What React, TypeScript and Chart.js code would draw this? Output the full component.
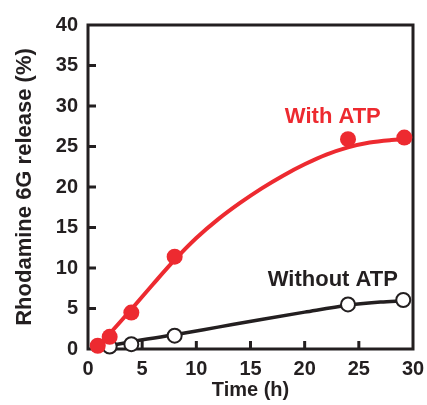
import React, { useEffect, useRef } from "react";
import { Chart, registerables } from "chart.js";

Chart.register(...registerables);

// Measured points
const withAtpTime = [0.9, 2, 4, 8, 24, 29.2];
const withAtpRelease = [0.4, 1.5, 4.5, 11.4, 25.9, 26.1];
const withoutAtpTime = [2, 4, 8, 24, 29.1];
const withoutAtpRelease = [0.3, 0.6, 1.65, 5.5, 6.05];

// Fitted curves
const withFitTime = [0.9, 2, 4, 6, 8, 10, 12, 14, 16, 18, 20, 22, 24, 26, 28, 29.2];
const withFitRelease = [0.4, 1.9, 4.9, 8.0, 11.0, 13.7, 16.0, 18.0, 19.8, 21.4, 22.8, 24.0, 24.9, 25.5, 25.8, 25.9];
const withoutFitTime = [0.9, 2, 4, 8, 12, 16, 20, 24, 27, 29.1];
const withoutFitRelease = [0.1, 0.4, 0.9, 1.75, 2.7, 3.65, 4.55, 5.4, 5.8, 5.95];

const xTicks = [0, 5, 10, 15, 20, 25, 30];
const yTicks = [0, 5, 10, 15, 20, 25, 30, 35, 40];

const RED = "#ED2A30";
const INK = "#231F20";
const FONT = "'Liberation Sans', Arial, sans-serif";

const toXY = (xs: number[], ys: number[]) => xs.map((x, i) => ({ x, y: ys[i] }));

const framePlugin = {
  id: "frame",
  beforeDatasetsDraw(chart: any) {
    const { ctx, chartArea: a, scales } = chart;
    ctx.save();
    ctx.strokeStyle = INK;
    ctx.lineWidth = 3;
    ctx.strokeRect(a.left, a.top, a.right - a.left, a.bottom - a.top);
    ctx.beginPath();
    yTicks.forEach((v) => {
      if (v <= 0 || v >= 40) return;
      const y = scales.y.getPixelForValue(v);
      ctx.moveTo(a.left, y);
      ctx.lineTo(a.left + 8, y);
    });
    xTicks.forEach((v) => {
      if (v <= 0 || v >= 30) return;
      const x = scales.x.getPixelForValue(v);
      ctx.moveTo(x, a.bottom);
      ctx.lineTo(x, a.bottom - 8);
    });
    ctx.stroke();
    ctx.restore();
  },
  afterDraw(chart: any) {
    const { ctx, scales } = chart;
    ctx.save();
    ctx.font = `bold 22px ${FONT}`;
    ctx.textAlign = "center";
    ctx.textBaseline = "middle";
    ctx.fillStyle = RED;
    ctx.fillText("With ATP", scales.x.getPixelForValue(22.6), scales.y.getPixelForValue(28.6));
    ctx.fillStyle = INK;
    ctx.fillText("Without ATP", scales.x.getPixelForValue(22.6), scales.y.getPixelForValue(8.5));
    ctx.restore();
  },
};

export default function App() {
  const ref = useRef<HTMLCanvasElement | null>(null);
  useEffect(() => {
    if (!ref.current) return;
    const chart = new Chart(ref.current, {
      type: "scatter",
      data: {
        datasets: [
          {
            data: toXY(withAtpTime, withAtpRelease),
            pointRadius: 8,
            pointBackgroundColor: RED,
            pointBorderColor: RED,
            pointBorderWidth: 0,
            showLine: false,
            clip: false,
          } as any,
          {
            data: toXY(withoutAtpTime, withoutAtpRelease),
            pointRadius: 7,
            pointBackgroundColor: "#ffffff",
            pointBorderColor: INK,
            pointBorderWidth: 2,
            showLine: false,
            clip: false,
          } as any,
          {
            data: toXY(withFitTime, withFitRelease),
            showLine: true,
            pointRadius: 0,
            borderColor: RED,
            borderWidth: 4,
            cubicInterpolationMode: "monotone",
            clip: false,
          } as any,
          {
            data: toXY(withoutFitTime, withoutFitRelease),
            showLine: true,
            pointRadius: 0,
            borderColor: INK,
            borderWidth: 3.5,
            cubicInterpolationMode: "monotone",
            clip: false,
          } as any,
        ],
      },
      options: {
        animation: false,
        responsive: false,
        events: [],
        layout: { padding: { left: 0, right: 14, top: 25, bottom: 0 } },
        plugins: { legend: { display: false }, tooltip: { enabled: false } },
        scales: {
          x: {
            type: "linear",
            min: 0,
            max: 30,
            afterFit: (s: any) => {
              s.height = 56;
              s.paddingLeft = 0;
              s.paddingRight = 0;
            },
            afterBuildTicks: (s: any) => {
              s.ticks = xTicks.map((v) => ({ value: v }));
            },
            grid: { display: false, drawTicks: false },
            border: { display: false },
            ticks: {
              padding: 8,
              color: INK,
              font: { family: FONT, size: 20, weight: "bold" },
              maxRotation: 0,
            },
            title: {
              display: true,
              text: "Time (h)",
              color: INK,
              font: { family: FONT, size: 20, weight: "bold" },
              padding: { top: 0, bottom: 3 },
            },
          },
          y: {
            type: "linear",
            min: 0,
            max: 40,
            afterFit: (s: any) => {
              s.width = 88;
              s.paddingTop = 0;
              s.paddingBottom = 0;
            },
            afterBuildTicks: (s: any) => {
              s.ticks = yTicks.map((v) => ({ value: v }));
            },
            grid: { display: false, drawTicks: false },
            border: { display: false },
            ticks: {
              padding: 10,
              color: INK,
              font: { family: FONT, size: 20, weight: "bold" },
            },
            title: {
              display: true,
              text: "Rhodamine 6G release (%)",
              color: INK,
              font: { family: FONT, size: 22, weight: "bold" },
              padding: { top: 12, bottom: 0 },
            },
          },
        },
      },
      plugins: [framePlugin],
    } as any);
    return () => chart.destroy();
  }, []);
  return (
    <div style={{ position: "fixed", left: 0, top: 0, width: 427, height: 405, background: "#fff" }}>
      <canvas ref={ref} width={427} height={405} style={{ width: 427, height: 405, display: "block" }} />
    </div>
  );
}
